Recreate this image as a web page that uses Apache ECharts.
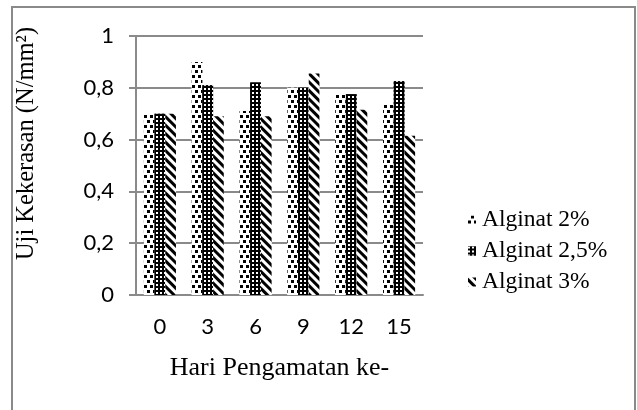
<!DOCTYPE html>
<html>
<head>
<meta charset="utf-8">
<script src="https://cdn.jsdelivr.net/npm/echarts@6/dist/echarts.min.js"></script>
<style>
  html, body { margin: 0; padding: 0; background: #fff; }
  #chart { width: 637px; height: 410px; }
</style>
</head>
<body>
<div id="chart"></div>
<script>
// Observation days and hardness values per alginate concentration
const days = ['0', '3', '6', '9', '12', '15'];
const alginat2 = [0.70, 0.90, 0.71, 0.80, 0.775, 0.735];
const alginat25 = [0.70, 0.81, 0.82, 0.80, 0.775, 0.825];
const alginat3 = [0.70, 0.69, 0.69, 0.855, 0.715, 0.615];
const seriesNames = ['Alginat 2%', 'Alginat 2,5%', 'Alginat 3%'];
const yTicks = { min: 0, max: 1, interval: 0.2 };

const serif = '"Liberation Serif", "Times New Roman", serif';
const sans = 'Lato, "Open Sans", sans-serif';
const gray = '#8a8a8a';

// Fill patterns: dotted, small grid, diagonal stripes
const dotsDecal = {
  symbol: 'rect', symbolSize: 1, color: '#000', backgroundColor: '#fff',
  dashArrayX: [[3, 3], [0, 3, 3, 0]], dashArrayY: [3, 2], rotation: 0
};
const gridDecal = {
  symbol: 'rect', symbolSize: 1, color: '#fff', backgroundColor: '#000',
  dashArrayX: [2, 2], dashArrayY: [2, 2], rotation: 0
};
const stripeDecal = {
  symbol: 'rect', symbolSize: 1, color: '#000', backgroundColor: '#fff',
  dashArrayX: [1, 0], dashArrayY: [3, 3], rotation: Math.PI / 4
};

function barSeries(name, data, base, decal) {
  return {
    name: name,
    type: 'bar',
    data: data,
    barGap: '0%',
    barCategoryGap: '33%',
    itemStyle: { color: base, decal: decal },
    emphasis: { disabled: true }
  };
}

const chart = echarts.init(document.getElementById('chart'), null, { renderer: 'canvas' });
chart.setOption({
  animation: false,
  backgroundColor: '#fff',
  graphic: [{
    type: 'rect',
    shape: { x: 12, y: 7, width: 623, height: 430 },
    style: { fill: 'none', stroke: gray, lineWidth: 2 },
    silent: true
  }],
  grid: { left: 136, right: 214, top: 36, bottom: 115 },
  legend: {
    orient: 'vertical',
    left: 463,
    top: 203,
    itemWidth: 8,
    itemHeight: 9,
    itemGap: 7,
    icon: 'rect',
    data: seriesNames,
    textStyle: { fontFamily: serif, fontSize: 23.5, color: '#000', padding: [0, 0, 0, 1] }
  },
  xAxis: {
    type: 'category',
    data: days,
    name: 'Hari Pengamatan ke-',
    nameLocation: 'middle',
    nameGap: 60,
    nameTextStyle: { fontFamily: serif, fontSize: 26, color: '#000' },
    axisLine: { lineStyle: { color: gray, width: 2 } },
    axisTick: { show: false },
    axisLabel: { fontFamily: sans, fontSize: 22, color: '#000', margin: 21 }
  },
  yAxis: {
    type: 'value',
    min: yTicks.min,
    max: yTicks.max,
    interval: yTicks.interval,
    name: 'Uji Kekerasan (N/mm²)',
    nameLocation: 'middle',
    nameGap: 97,
    nameTextStyle: { fontFamily: serif, fontSize: 24.5, color: '#000', padding: [0, 0, 0, 44] },
    axisLine: { show: true, lineStyle: { color: gray, width: 2 } },
    axisTick: { show: true, length: 7, lineStyle: { color: gray, width: 2 } },
    splitLine: { lineStyle: { color: gray, width: 2 } },
    axisLabel: {
      fontFamily: sans, fontSize: 22, color: '#000', margin: 22,
      formatter: v => String(Math.round(v * 10) / 10).replace('.', ',')
    }
  },
  series: [
    barSeries(seriesNames[0], alginat2, '#fff', dotsDecal),
    barSeries(seriesNames[1], alginat25, '#000', gridDecal),
    barSeries(seriesNames[2], alginat3, '#fff', stripeDecal)
  ]
});
</script>
</body>
</html>
